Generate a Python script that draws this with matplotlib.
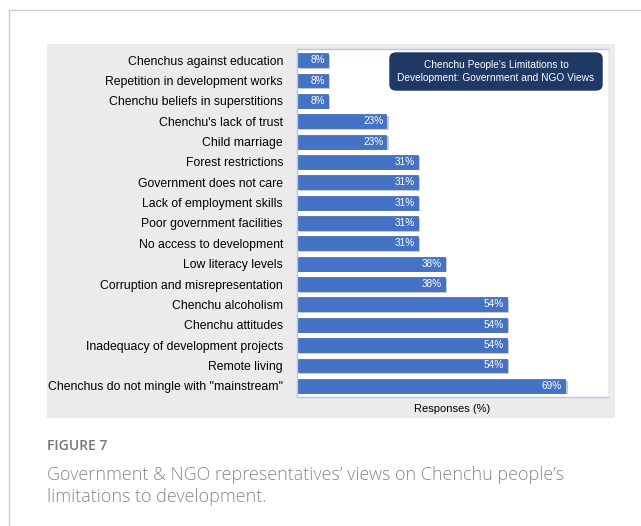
import matplotlib
matplotlib.use("Agg")
import matplotlib.pyplot as plt
from matplotlib.patches import Rectangle, FancyBboxPatch
from matplotlib.lines import Line2D

categories = [
    "Chenchus against education",
    "Repetition in development works",
    "Chenchu beliefs in superstitions",
    "Chenchu's lack of trust",
    "Child marriage",
    "Forest restrictions",
    "Government does not care",
    "Lack of employment skills",
    "Poor government facilities",
    "No access to development",
    "Low literacy levels",
    "Corruption and misrepresentation",
    "Chenchu alcoholism",
    "Chenchu attitudes",
    "Inadequacy of development projects",
    "Remote living",
    'Chenchus do not mingle with "mainstream"',
]
values = [8, 8, 8, 23, 23, 31, 31, 31, 31, 31, 38, 38, 54, 54, 54, 54, 69]

W, H = 641, 526
fig = plt.figure(figsize=(W / 100, H / 100), dpi=100)
plt.rcParams['font.family'] = ['Liberation Sans', 'DejaVu Sans']

def fx(x): return x / W
def fy(y): return 1 - y / H

# outer frame lines
fig.add_artist(Line2D([fx(9), fx(9)], [fy(10), 0], color='#cccccc', lw=1, transform=fig.transFigure))
fig.add_artist(Line2D([fx(9), 1], [fy(10), fy(10)], color='#cccccc', lw=1, transform=fig.transFigure))

# gray panel
fig.add_artist(Rectangle((fx(47), fy(418)), fx(615) - fx(47), fy(44) - fy(418),
                         transform=fig.transFigure, facecolor='#ebebeb', edgecolor='none', zorder=0))

ax = fig.add_axes([fx(297), fy(397), fx(608) - fx(297), fy(49) - fy(397)])
ax.set_facecolor('white')
y = list(range(len(categories)))
# shadow
ax.barh([i + 0.08 for i in y], values, height=0.68, left=0.6, color='#c8c8c8', zorder=1)
ax.barh(y, values, height=0.68, color='#4472c4', edgecolor='#3a62ad', lw=0.5, zorder=2)
for i, v in enumerate(values):
    ax.text(v - 0.8, i, f"{v}%", ha='right', va='center', color='white', fontsize=7.2, zorder=3)
ax.set_xlim(0, 80)
ax.set_ylim(len(categories) - 0.45, -0.55)
ax.set_yticks(y)
ax.set_yticklabels(categories, fontsize=8.8)
ax.tick_params(axis='y', length=0, pad=10)
ax.set_xticks([])
for s in ax.spines.values():
    s.set_color('#b4c7e7')
    s.set_linewidth(1)
ax.spines['right'].set_visible(False)

fig.text(fx(452), fy(409), "Responses (%)", ha='center', va='center', fontsize=8)

# title box
box = FancyBboxPatch((fx(390), fy(90)), fx(602) - fx(390), fy(53) - fy(90),
                     boxstyle="round,pad=0,rounding_size=0.01", transform=fig.transFigure,
                     facecolor='#1f3864', edgecolor='#1f3864', zorder=5)
fig.add_artist(box)
fig.text(fx(496), fy(71.5), "Chenchu People's Limitations to\nDevelopment: Government and NGO Views",
         ha='center', va='center', color='white', fontsize=7.3, zorder=6, linespacing=1.3)

fig.text(fx(47), fy(446), "FIGURE 7", fontsize=10, color='#777777', fontweight='semibold',
         family=['Open Sans', 'DejaVu Sans'], va='center')
fig.text(fx(47), fy(486), "Government & NGO representatives\u2019 views on Chenchu people\u2019s\nlimitations to development.",
         fontsize=13, color='#888888', fontweight='light', family=['Open Sans', 'DejaVu Sans'],
         va='center', linespacing=1.35)

fig.savefig("out.png", dpi=100)
